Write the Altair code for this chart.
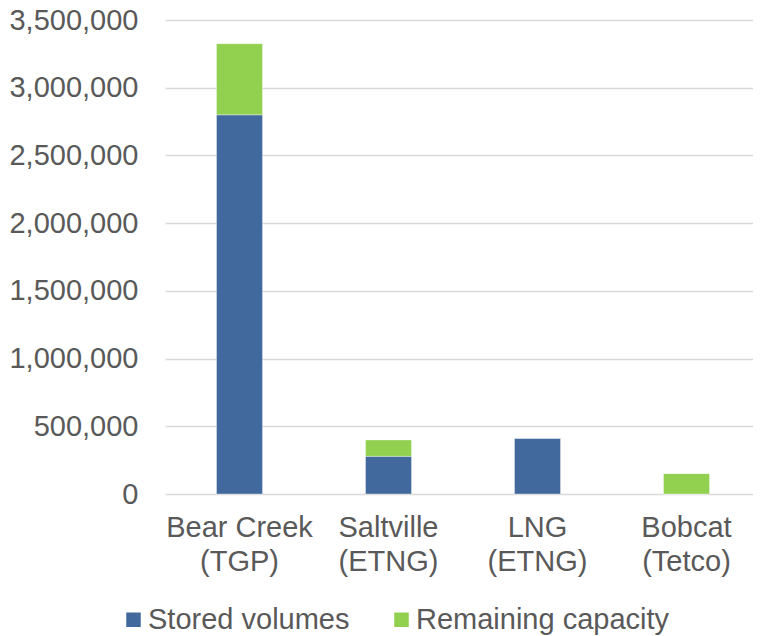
import altair as alt
import pandas as pd

categories = ["Bear Creek|(TGP)", "Saltville|(ETNG)", "LNG|(ETNG)", "Bobcat|(Tetco)"]
stored = [2800000, 278000, 411000, 0]
remaining = [525000, 121000, 0, 150000]
series = ["Stored volumes", "Remaining capacity"]
colors = ["#41699D", "#92D050"]

rows = []
for c, s, r in zip(categories, stored, remaining):
    rows.append({"cat": c, "series": series[0], "value": s, "ord": 0})
    rows.append({"cat": c, "series": series[1], "value": r, "ord": 1})
df = pd.DataFrame(rows)

FONT = "Liberation Sans"
TXT = "#595959"
FS = 29

chart = alt.Chart(df).mark_bar(size=46, stroke="#FFFFFF", strokeWidth=0.6, strokeOpacity=0.6).encode(
    x=alt.X("cat:N", sort=categories, title=None,
            scale=alt.Scale(range=[0, 596], paddingInner=0.1, paddingOuter=0.05),
            axis=alt.Axis(labelExpr="split(datum.value, '|')", labelAngle=0,
                          labelFontSize=FS, labelFont=FONT, labelColor=TXT,
                          labelBaseline="top", labelPadding=19, labelLineHeight=34,
                          domain=False, ticks=False, grid=False)),
    y=alt.Y("value:Q", stack="zero", title=None,
            scale=alt.Scale(domain=[0, 3500000], nice=False),
            axis=alt.Axis(values=list(range(0, 3500001, 500000)), format=",.0f",
                          labelFontSize=FS, labelFont=FONT, labelColor=TXT,
                          labelPadding=27, domain=False, ticks=False,
                          grid=True, gridColor="#D9D9D9", gridWidth=1.5)),
    color=alt.Color("series:N", scale=alt.Scale(domain=series, range=colors),
                    legend=alt.Legend(title=None, orient="none", direction="horizontal",
                                      legendX=-46, legendY=585, padding=0,
                                      symbolType="square", symbolSize=210,
                                      symbolStrokeWidth=0, labelFontSize=FS,
                                      labelFont=FONT, labelColor=TXT, labelLimit=500,
                                      labelOffset=0, columnPadding=37)),
    order=alt.Order("ord:Q"),
).properties(
    width=588, height=474,
    autosize=alt.AutoSizeParams(type="none"),
    padding={"left": 157, "top": 12, "right": 0, "bottom": 142},
).configure_view(stroke=None)

chart.save("out.html", embed_options={"renderer": "svg", "actions": False})
